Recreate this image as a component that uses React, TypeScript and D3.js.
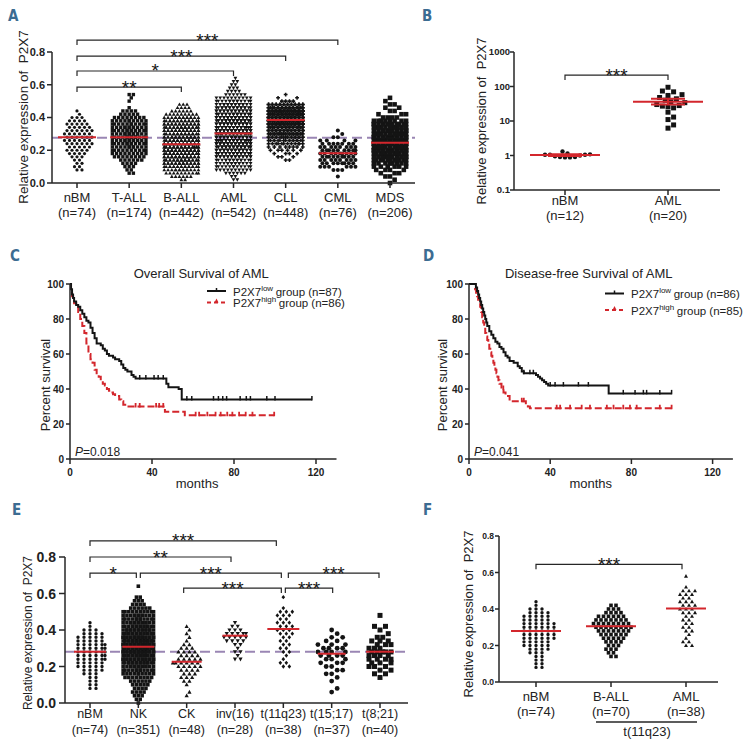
import React from "react";
import * as d3 from "d3";

const FONT = "'Liberation Sans', Arial, Helvetica, sans-serif";
const RED = "#d3262c";
const INK = "#141414";
const AXIS = "#262626";
const DASH = "#9a86b4";
const LETTER = "#3c6c92";

// ---------------- Panel A data ----------------
const aCategories = ["nBM", "T-ALL", "B-ALL", "AML", "CLL", "CML", "MDS"];
const aN = [74, 174, 442, 542, 448, 76, 206];
const aMedians = [0.28, 0.28, 0.236, 0.303, 0.385, 0.181, 0.246];
const aReference = 0.277;
// counts per 0.02-wide value bin: entry i = value 0.02*i
const histNbm = [0, 0, 0, 0, 2, 2, 2, 2, 3, 4, 5, 5, 6, 6, 6, 6, 6, 5, 5, 4, 3, 1, 1];
const histTall = [0, 0, 0, 2, 2, 3, 4, 6, 8, 9, 10, 11, 12, 13, 13, 13, 13, 12, 11, 10, 8, 5, 4, 1, 0, 1, 1, 2];
const histBall = [0, 2, 6, 10, 14, 18, 22, 24, 26, 28, 30, 30, 30, 28, 27, 26, 24, 22, 20, 18, 15, 9, 6, 4, 3];
const histAml = [0, 2, 2, 6, 10, 12, 14, 16, 20, 22, 26, 28, 30, 32, 32, 32, 32, 30, 28, 26, 24, 22, 20, 18, 16, 14, 10, 6, 4, 3, 2, 2, 1];
const histCll = [0, 0, 0, 0, 0, 0, 0, 2, 3, 4, 6, 8, 12, 16, 20, 26, 32, 36, 40, 44, 46, 46, 44, 36, 20, 4, 2, 1];
const histCml = [0, 0, 1, 0, 3, 6, 8, 8, 9, 9, 9, 8, 7, 4, 2, 1, 1];
const histMds = [1, 1, 2, 3, 4, 6, 8, 12, 13, 14, 14, 14, 14, 14, 14, 13, 12, 12, 12, 8, 4, 3, 2, 2, 2, 1, 1];
const aSignif = [
  { a: 0, b: 2, label: "**", v: 0.586 },
  { a: 0, b: 3, label: "*", v: 0.684 },
  { a: 0, b: 4, label: "***", v: 0.775 },
  { a: 0, b: 5, label: "***", v: 0.873 },
];

// ---------------- Panel B data ----------------
const bCategories = ["nBM", "AML"];
const bN = [12, 20];
const bNbm = [1.15, 1.05, 1.05, 1.0, 0.95, 0.9, 1.3, 0.88, 0.88, 0.9, 1.05, 1.08];
const bAml = [95, 74, 70, 58, 55, 48, 44, 40, 36, 34, 30, 28, 27, 26, 24, 18, 13, 11, 7.7, 6.2];
const bMeans = [1.03, 36];
const bSemLow = [0.97, 30];
const bSemHigh = [1.09, 44];
const bSignif = { label: "***", v: 215 };

// ---------------- Panel C / D data ----------------
const osLowT = [0, 0.5, 1, 1.5, 2, 3, 4, 5, 6, 7, 8, 9, 10, 11, 12, 13, 15, 16, 17, 18, 19, 21, 22, 24, 25, 26, 27, 28, 30, 31, 32, 47, 48, 53, 54.5];
const osLowS = [100, 97, 94, 92, 90, 88, 87, 85, 83, 81, 79, 78, 75, 72, 69, 66, 65, 63, 62, 60, 59, 58, 57, 56, 54, 52, 51, 50, 48, 47, 46, 43, 41, 40, 34];
const osLowCensor = [34, 37, 41, 43, 45.5, 57, 59.4, 70, 72.4, 74.5, 76.4, 83, 86, 88, 96, 100, 118];
const osHighT = [0, 0.5, 1, 1.5, 2, 3, 4, 5, 6, 7, 8, 9, 10, 11, 12, 13, 14, 15, 16, 17, 18, 19, 20, 21, 22, 24, 25, 26, 27.5, 46.3, 56];
const osHighS = [100, 96, 93, 91, 89, 87, 84, 80, 76, 72, 66, 60, 57, 55, 51, 48, 47, 45, 43, 42, 40, 39, 38, 37, 36, 34, 33, 31, 30, 27, 25];
const osHighCensor = [32, 34, 42, 43.5, 45.5, 61.3, 63, 67, 71, 73.5, 76.7, 79.2, 82.5, 85.7, 89, 99.6];

const dfsLowT = [0, 3.4, 4, 4.5, 5, 5.5, 6, 6.5, 7, 7.5, 8, 8.5, 9, 10, 11, 12, 13, 14, 15, 16, 17, 18, 19, 20, 22, 24, 25, 26, 27, 33, 34, 35, 36, 37, 38, 39, 68.8];
const dfsLowS = [100, 98, 96, 94, 92, 90, 88, 86, 84, 82, 80, 78, 76, 73, 71, 69, 67, 66, 64, 63, 61, 59, 58, 56, 55, 53, 52, 50, 49, 48, 47, 46, 45, 44, 43, 42, 37.5];
const dfsLowCensor = [27, 30, 31.7, 40, 42.4, 46.5, 53.9, 58.8, 76, 81.8, 85.9, 87.5, 94, 99.8];
const dfsHighT = [0, 3, 3.5, 4, 4.5, 5, 5.5, 6, 6.5, 7, 7.5, 8, 8.5, 9, 9.5, 10, 10.5, 11, 11.5, 12, 12.5, 13, 13.5, 14, 14.5, 15, 16, 17, 18, 20, 28, 29, 30];
const dfsHighS = [100, 97, 95, 93, 91, 89, 87, 84, 81, 78, 75, 72, 70, 68, 66, 63, 61, 59, 57, 55, 53, 51, 49, 47, 45, 43, 40, 38, 36, 33, 31, 30, 29];
const dfsHighCensor = [16.9, 26, 27, 43.2, 44.9, 49.8, 55.5, 59.6, 67.9, 71.2, 76, 79.3, 82.6, 94, 99.8];

// ---------------- Panel E data ----------------
const eCategories = ["nBM", "NK", "CK", "inv(16)", "t(11q23)", "t(15;17)", "t(8;21)"];
const eN = [74, 351, 48, 28, 38, 37, 40];
const eMedians = [0.281, 0.308, 0.226, 0.369, 0.405, 0.27, 0.281];
const eReference = 0.281;
const histNk = [1, 2, 3, 4, 4, 5, 6, 8, 10, 12, 14, 16, 18, 21, 23, 23, 24, 23, 21, 18, 16, 15, 14, 12, 12, 10, 6, 4, 3, 2, 0, 0, 1];
const histCk = [0, 0, 1, 1, 0, 1, 2, 3, 3, 4, 5, 6, 5, 4, 4, 3, 2, 1, 1, 1, 1, 1];
const histInv16 = [0, 0, 0, 0, 0, 0, 0, 0, 0, 0, 0, 0, 2, 1, 2, 1, 2, 4, 5, 5, 3, 2, 1];
const histT11q23 = [0, 0, 0, 0, 0, 0, 0, 0, 0, 0, 2, 2, 1, 1, 2, 2, 2, 2, 2, 3, 3, 3, 3, 2, 3, 3, 1, 0, 0, 1];
const histT1517 = [0, 0, 0, 1, 1, 0, 1, 1, 2, 2, 2, 3, 3, 4, 4, 4, 3, 2, 2, 1, 1];
const histT821 = [0, 0, 0, 0, 0, 0, 0, 1, 2, 2, 3, 3, 4, 4, 5, 3, 3, 3, 2, 1, 1, 2, 0, 0, 1];
const eSignif = [
  { a: 0, b: 4, label: "***", v: 0.888, da: 0, db: -7 },
  { a: 0, b: 3, label: "**", v: 0.8, da: 0, db: -4 },
  { a: 0, b: 1, label: "*", v: 0.712, da: 0, db: -2 },
  { a: 1, b: 4, label: "***", v: 0.712, da: 2, db: -2 },
  { a: 2, b: 4, label: "***", v: 0.63, da: -3, db: -2 },
  { a: 4, b: 6, label: "***", v: 0.712, da: 5, db: -1 },
  { a: 4, b: 5, label: "***", v: 0.63, da: 2, db: 1 },
];

// ---------------- Panel F data ----------------
const fCategories = ["nBM", "B-ALL", "AML"];
const fN = [74, 70, 38];
const fMedians = [0.28, 0.306, 0.403];
const histBallT11 = [0, 0, 0, 0, 0, 0, 0, 2, 2, 3, 3, 4, 5, 6, 7, 8, 8, 7, 6, 4, 3, 2];
const fSignif = [{ a: 0, b: 2, label: "***", v: 0.645, da: 0, db: -4 }];

// ---------------- helpers ----------------
type Shape = "circle" | "square" | "triangle" | "triangleDown" | "plus" | "diamond";

function markerPath(shape: Shape, d: number): string {
  const r = d / 2;
  switch (shape) {
    case "circle":
      return `M${r},0A${r},${r} 0 1,1 ${-r},0A${r},${r} 0 1,1 ${r},0Z`;
    case "square":
      return `M${-r},${-r}h${d}v${d}h${-d}Z`;
    case "triangle":
      return `M0,${-r * 1.1}L${r * 1.05},${r * 0.8}L${-r * 1.05},${r * 0.8}Z`;
    case "triangleDown":
      return `M0,${r * 1.1}L${r * 1.05},${-r * 0.8}L${-r * 1.05},${-r * 0.8}Z`;
    case "diamond":
      return `M0,${-r * 1.2}L${r},0L0,${r * 1.2}L${-r},0Z`;
    case "plus": {
      const t = d * 0.2;
      return `M${-t},${-r}h${2 * t}v${r - t}h${r - t}v${2 * t}h${-(r - t)}v${r - t}h${-2 * t}v${-(r - t)}h${-(r - t)}v${-2 * t}h${r - t}Z`;
    }
  }
  return "";
}

function expand(hist: number[], step = 0.02): number[] {
  const out: number[] = [];
  hist.forEach((c, i) => {
    for (let k = 0; k < c; k++) out.push(+(i * step).toFixed(4));
  });
  return out;
}

function dodge(values: number[], yOf: (v: number) => number, cx: number, sx: number, sy: number, maxHalf: number) {
  const ys = values.map((v) => yOf(v)).sort((a, b) => b - a);
  const step = sx / 2;
  const n = Math.max(0, Math.floor(maxHalf / step + 1e-6));
  const cands: number[] = [0];
  for (let k = 1; k <= n; k++) cands.push(k * step, -k * step);
  const placed: { x: number; y: number }[] = [];
  let start = 0;
  for (const py of ys) {
    while (start < placed.length && placed[start].y - py >= sy) start++;
    let chosen = 0;
    let best = Infinity;
    for (const c of cands) {
      let pen = 0;
      for (let j = start; j < placed.length; j++) {
        const q = placed[j];
        const dx = (q.x - (cx + c)) / sx;
        const dy = (q.y - py) / sy;
        const d2 = dx * dx + dy * dy;
        if (d2 < 0.999) pen += 1 - Math.sqrt(d2);
      }
      if (pen < 1e-9) {
        chosen = c;
        best = 0;
        break;
      }
      if (pen < best - 1e-9) {
        best = pen;
        chosen = c;
      }
    }
    placed.push({ x: cx + chosen, y: py });
  }
  return placed;
}

interface GroupStyle {
  shape: Shape;
  d: number;
  sx: number;
  maxHalf: number;
  medHalf: number;
}
interface Bracket {
  a: number;
  b: number;
  label: string;
  v: number;
  da?: number;
  db?: number;
}

function Brackets({ list, xOf, yOf }: { list: Bracket[]; xOf: (i: number) => number; yOf: (v: number) => number }) {
  return (
    <g>
      {list.map((b, k) => {
        const xa = xOf(b.a) + (b.da || 0);
        const xb = xOf(b.b) + (b.db || 0);
        const yy = yOf(b.v);
        return (
          <g key={k}>
            <path d={`M${xa},${yy + 5}V${yy}H${xb}V${yy + 5}`} fill="none" stroke={AXIS} strokeWidth={1.2} />
            <text x={(xa + xb) / 2} y={yy + 6.5} textAnchor="middle" fontSize={19} fill={INK}>
              {b.label}
            </text>
          </g>
        );
      })}
    </g>
  );
}

interface DotPanelProps {
  cats: string[];
  ns: number[];
  hists: number[][];
  medians: number[];
  styles: GroupStyle[];
  xRange: [number, number];
  axisX: number;
  axisRight: number;
  yRange: [number, number];
  tickFont: number;
  tickLen: number;
  tickGap: number;
  catFont: number;
  catBase1: number;
  catBase2: number;
  yLabel: { x: number; cy: number; size: number };
  reference?: number;
  brackets: Bracket[];
}

function DotPanel(p: DotPanelProps) {
  const x = d3.scalePoint<string>().domain(p.cats).range(p.xRange);
  const y = d3.scaleLinear().domain([0, 0.8]).range(p.yRange);
  const ticks = y.ticks(4);
  const fmt = d3.format(".1f");
  const groups = p.cats.map((c, i) => {
    const st = p.styles[i];
    const pts = dodge(expand(p.hists[i]), y, x(c)!, st.sx, st.d * 1.05, st.maxHalf);
    return { c, i, st, pts };
  });
  const y0 = y(0);
  return (
    <g>
      {p.reference !== undefined && (
        <line x1={p.axisX} x2={p.axisRight} y1={y(p.reference)} y2={y(p.reference)} stroke={DASH} strokeWidth={2} strokeDasharray="10,5" />
      )}
      {groups.map((g) => {
        const path = markerPath(g.st.shape, g.st.d);
        return (
          <g key={g.c} fill={INK}>
            {g.pts.map((pt, k) => (
              <path key={k} d={path} transform={`translate(${pt.x.toFixed(2)},${pt.y.toFixed(2)})`} />
            ))}
          </g>
        );
      })}
      {groups.map((g) => (
        <line
          key={"m" + g.c}
          x1={x(g.c)! - g.st.medHalf}
          x2={x(g.c)! + g.st.medHalf}
          y1={y(p.medians[g.i])}
          y2={y(p.medians[g.i])}
          stroke={RED}
          strokeWidth={2}
        />
      ))}
      {/* axes */}
      <line x1={p.axisX} x2={p.axisX} y1={y(0.8)} y2={y0} stroke={AXIS} strokeWidth={1.5} />
      <line x1={p.axisX} x2={p.axisRight} y1={y0} y2={y0} stroke={AXIS} strokeWidth={1.5} />
      {ticks.map((t) => (
        <g key={t}>
          <line x1={p.axisX - p.tickLen} x2={p.axisX} y1={y(t)} y2={y(t)} stroke={AXIS} strokeWidth={1.5} />
          <text x={p.axisX - p.tickGap} y={y(t)} dy="0.36em" textAnchor="end" fontWeight="bold" fontSize={p.tickFont} fill="#222">
            {fmt(t)}
          </text>
        </g>
      ))}
      {p.cats.map((c, i) => (
        <g key={"c" + c}>
          <line x1={x(c)} x2={x(c)} y1={y0} y2={y0 + 5} stroke={AXIS} strokeWidth={1.5} />
          <text x={x(c)} y={p.catBase1} textAnchor="middle" fontSize={p.catFont} fill="#222">
            {c}
          </text>
          <text x={x(c)} y={p.catBase2} textAnchor="middle" fontSize={p.catFont} fill="#222">
            {`(n=${p.ns[i]})`}
          </text>
        </g>
      ))}
      <text
        transform={`translate(${p.yLabel.x},${p.yLabel.cy}) rotate(-90)`}
        textAnchor="middle"
        fontSize={p.yLabel.size}
        fill="#222"
        style={{ whiteSpace: "pre" }}
      >
        {"Relative expression of  P2X7"}
      </text>
      <Brackets list={p.brackets} xOf={(i) => x(p.cats[i])!} yOf={y} />
    </g>
  );
}

function PanelB() {
  const x = d3.scalePoint<string>().domain(bCategories).range([565, 668]);
  const y = d3.scaleLog().domain([0.1, 1000]).range([190, 52]);
  const ticks = [0.1, 1, 10, 100, 1000];
  const axisX = 514;
  const groups = [
    { pts: dodge(bNbm, (v) => y(v), x("nBM")!, 5, 4.6, 34), path: markerPath("circle", 4.4) },
    { pts: dodge(bAml, (v) => y(v), x("AML")!, 5.6, 5.4, 34), path: markerPath("square", 5) },
  ];
  return (
    <g>
      {groups.map((g, gi) => (
        <g key={gi} fill={INK}>
          {g.pts.map((pt, k) => (
            <path key={k} d={g.path} transform={`translate(${pt.x.toFixed(2)},${pt.y.toFixed(2)})`} />
          ))}
        </g>
      ))}
      {bCategories.map((c, i) => {
        const cx = x(c)!;
        return (
          <g key={"e" + c} stroke={RED} strokeWidth={2}>
            <line x1={cx - 35} x2={cx + 35} y1={y(bMeans[i])} y2={y(bMeans[i])} />
            <line x1={cx} x2={cx} y1={y(bSemLow[i])} y2={y(bSemHigh[i])} />
            <line x1={cx - 17} x2={cx + 17} y1={y(bSemLow[i])} y2={y(bSemLow[i])} />
            <line x1={cx - 17} x2={cx + 17} y1={y(bSemHigh[i])} y2={y(bSemHigh[i])} />
          </g>
        );
      })}
      <line x1={axisX} x2={axisX} y1={y(1000)} y2={y(0.1)} stroke={AXIS} strokeWidth={1.5} />
      <line x1={axisX} x2={720} y1={y(0.1)} y2={y(0.1)} stroke={AXIS} strokeWidth={1.5} />
      {ticks.map((t) => (
        <g key={t}>
          <line x1={axisX - 4} x2={axisX} y1={y(t)} y2={y(t)} stroke={AXIS} strokeWidth={1.5} />
          <text x={axisX - 4} y={y(t)} dy="0.36em" textAnchor="end" fontWeight="bold" fontSize={9.5} fill="#222">
            {String(t)}
          </text>
        </g>
      ))}
      {bCategories.map((c, i) => (
        <g key={"c" + c}>
          <line x1={x(c)} x2={x(c)} y1={y(0.1)} y2={y(0.1) + 5} stroke={AXIS} strokeWidth={1.5} />
          <text x={x(c)} y={205} textAnchor="middle" fontSize={13} fill="#222">
            {c}
          </text>
          <text x={x(c)} y={220} textAnchor="middle" fontSize={13} fill="#222">
            {`(n=${bN[i]})`}
          </text>
        </g>
      ))}
      <text transform="translate(486,121) rotate(-90)" textAnchor="middle" fontSize={13} fill="#222" style={{ whiteSpace: "pre" }}>
        {"Relative expression of  P2X7"}
      </text>
      <Brackets list={[{ a: 0, b: 1, label: bSignif.label, v: bSignif.v }]} xOf={(i) => x(bCategories[i])!} yOf={(v) => y(v)} />
    </g>
  );
}

interface Curve {
  t: number[];
  s: number[];
  censor: number[];
}
interface SurvProps {
  x0: number;
  ppm: number;
  title: string;
  titleAt: number;
  monthsAt: number;
  low: Curve;
  high: Curve;
  nLow: number;
  nHigh: number;
  legX: number;
  legY1: number;
  legY2: number;
  pText: string;
  yLabelX: number;
}

function SurvPanel(p: SurvProps) {
  const x = d3.scaleLinear().domain([0, 130]).range([p.x0, p.x0 + 130 * p.ppm]);
  const y = d3.scaleLinear().domain([0, 100]).range([459, 284]);
  const line = d3
    .line<[number, number]>()
    .x((d) => x(d[0]))
    .y((d) => y(d[1]))
    .curve(d3.curveStepAfter);
  const pts = (c: Curve) => {
    const arr: [number, number][] = c.t.map((t, i) => [t, c.s[i]]);
    arr.push([d3.max(c.censor)!, c.s[c.s.length - 1]]);
    return arr;
  };
  const survAt = (c: Curve, t: number) => {
    let s = c.s[0];
    for (let i = 0; i < c.t.length; i++) if (c.t[i] <= t) s = c.s[i];
    return s;
  };
  const mid = (p.legX + p.legX + 19) / 2;
  return (
    <g>
      <path d={line(pts(p.high)) || ""} fill="none" stroke={RED} strokeWidth={2} strokeDasharray="7,3" />
      {p.high.censor.map((t, k) => (
        <line key={k} x1={x(t)} x2={x(t)} y1={y(survAt(p.high, t)) - 3.5} y2={y(survAt(p.high, t)) + 1} stroke={RED} strokeWidth={1.8} />
      ))}
      <path d={line(pts(p.low)) || ""} fill="none" stroke={INK} strokeWidth={2} />
      {p.low.censor.map((t, k) => (
        <line key={k} x1={x(t)} x2={x(t)} y1={y(survAt(p.low, t)) - 3.5} y2={y(survAt(p.low, t)) + 1} stroke={INK} strokeWidth={1.5} />
      ))}
      {/* axes */}
      <line x1={x(0)} x2={x(0)} y1={y(100)} y2={y(0)} stroke={AXIS} strokeWidth={1.5} />
      <line x1={x(0)} x2={x(130)} y1={y(0)} y2={y(0)} stroke={AXIS} strokeWidth={1.5} />
      {[0, 20, 40, 60, 80, 100].map((t) => (
        <g key={"y" + t}>
          <line x1={x(0) - 4} x2={x(0)} y1={y(t)} y2={y(t)} stroke={AXIS} strokeWidth={1.5} />
          <text x={x(0) - 6} y={y(t)} dy="0.36em" textAnchor="end" fontWeight="bold" fontSize={10} fill="#222">
            {t}
          </text>
        </g>
      ))}
      {[0, 40, 80, 120].map((t) => (
        <g key={"x" + t}>
          <line x1={x(t)} x2={x(t)} y1={y(0)} y2={y(0) + 5} stroke={AXIS} strokeWidth={1.5} />
          <text x={x(t)} y={476} textAnchor="middle" fontWeight="bold" fontSize={10} fill="#222">
            {t}
          </text>
        </g>
      ))}
      <text x={x(p.monthsAt)} y={488} textAnchor="middle" fontSize={13} fill="#222">
        months
      </text>
      <text transform={`translate(${p.yLabelX},385) rotate(-90)`} textAnchor="middle" fontSize={13} fill="#222">
        Percent survival
      </text>
      <text x={x(p.titleAt)} y={277.5} textAnchor="middle" fontSize={13} fill="#222">
        {p.title}
      </text>
      <text x={x(0) + 5} y={456} fontSize={12} fill="#222">
        <tspan fontStyle="italic">P</tspan>
        {p.pText}
      </text>
      {/* legend */}
      <line x1={p.legX} x2={p.legX + 19} y1={p.legY1} y2={p.legY1} stroke={INK} strokeWidth={2} />
      <line x1={mid} x2={mid} y1={p.legY1 - 3} y2={p.legY1} stroke={INK} strokeWidth={1.5} />
      <line x1={p.legX} x2={p.legX + 19} y1={p.legY2} y2={p.legY2} stroke={RED} strokeWidth={2} strokeDasharray="4,3" />
      <path d={`M${mid},${p.legY2 - 4}L${mid + 2},${p.legY2}L${mid - 2},${p.legY2}Z`} fill={RED} />
      <text x={p.legX + 26} y={p.legY1 + 4.5} fontSize={11.5} fill="#222">
        P2X7
        <tspan dy={-5} fontSize={8}>
          low
        </tspan>
        <tspan dy={5} dx={2.5}>{`group (n=${p.nLow})`}</tspan>
      </text>
      <text x={p.legX + 26} y={p.legY2 + 4.5} fontSize={11.5} fill="#222">
        P2X7
        <tspan dy={-5} fontSize={8}>
          high
        </tspan>
        <tspan dy={5} dx={2.5}>{`group (n=${p.nHigh})`}</tspan>
      </text>
    </g>
  );
}

function Letter({ x, y, t }: { x: number; y: number; t: string }) {
  return (
    <text x={x} y={y} fontSize={15} fontWeight="bold" fill={LETTER} fontFamily="'DejaVu Sans Condensed', 'DejaVu Sans', sans-serif" style={{ fontStretch: "condensed" }}>
      {t}
    </text>
  );
}

const aStyles: GroupStyle[] = [
  { shape: "circle", d: 3.2, sx: 5, maxHalf: 18, medHalf: 19 },
  { shape: "square", d: 3.4, sx: 4.2, maxHalf: 18, medHalf: 19 },
  { shape: "triangle", d: 3.6, sx: 3.8, maxHalf: 18, medHalf: 19 },
  { shape: "triangleDown", d: 3.6, sx: 3.8, maxHalf: 18, medHalf: 19 },
  { shape: "plus", d: 3.8, sx: 3.8, maxHalf: 18, medHalf: 19 },
  { shape: "circle", d: 4, sx: 4.4, maxHalf: 18, medHalf: 19 },
  { shape: "square", d: 4.6, sx: 4.6, maxHalf: 18, medHalf: 19 },
];
const eStyles: GroupStyle[] = [
  { shape: "circle", d: 3.4, sx: 6, maxHalf: 17, medHalf: 16 },
  { shape: "square", d: 3.6, sx: 3.8, maxHalf: 16, medHalf: 16 },
  { shape: "triangle", d: 4, sx: 5.5, maxHalf: 15, medHalf: 15 },
  { shape: "triangleDown", d: 4, sx: 5.5, maxHalf: 12, medHalf: 12.5 },
  { shape: "diamond", d: 3.6, sx: 6, maxHalf: 16, medHalf: 16 },
  { shape: "circle", d: 4.8, sx: 5.5, maxHalf: 14, medHalf: 14 },
  { shape: "square", d: 5, sx: 5.5, maxHalf: 13, medHalf: 14 },
];
const fStyles: GroupStyle[] = [
  { shape: "circle", d: 3.4, sx: 6, maxHalf: 23, medHalf: 25 },
  { shape: "square", d: 3.6, sx: 5, maxHalf: 24, medHalf: 25 },
  { shape: "triangle", d: 3.8, sx: 6, maxHalf: 14, medHalf: 20 },
];

export default function App() {
  return (
    <svg
      width={744}
      height={748}
      viewBox="0 0 744 748"
      style={{ position: "absolute", left: 0, top: 0, background: "#fff" }}
      fontFamily={FONT}
    >
      <rect width={744} height={748} fill="#fff" />
      <Letter x={8} y={21} t="A" />
      <Letter x={422} y={21} t="B" />
      <Letter x={10} y={261} t="C" />
      <Letter x={423} y={261} t="D" />
      <Letter x={12} y={515} t="E" />
      <Letter x={423} y={515} t="F" />

      <DotPanel
        cats={aCategories}
        ns={aN}
        hists={[histNbm, histTall, histBall, histAml, histCll, histCml, histMds]}
        medians={aMedians}
        styles={aStyles}
        xRange={[77, 390]}
        axisX={52}
        axisRight={415}
        yRange={[183, 52]}
        tickFont={11}
        tickLen={5}
        tickGap={7}
        catFont={13}
        catBase1={201.5}
        catBase2={216.5}
        yLabel={{ x: 28, cy: 117, size: 13.5 }}
        reference={aReference}
        brackets={aSignif}
      />
      <PanelB />
      <SurvPanel
        x0={70}
        ppm={2.05}
        title="Overall Survival of AML"
        titleAt={64}
        monthsAt={62}
        low={{ t: osLowT, s: osLowS, censor: osLowCensor }}
        high={{ t: osHighT, s: osHighS, censor: osHighCensor }}
        nLow={87}
        nHigh={86}
        legX={207}
        legY1={291}
        legY2={302.5}
        pText="=0.018"
        yLabelX={50}
      />
      <SurvPanel
        x0={469}
        ppm={2.03}
        title="Disease-free Survival of AML"
        titleAt={59}
        monthsAt={60}
        low={{ t: dfsLowT, s: dfsLowS, censor: dfsLowCensor }}
        high={{ t: dfsHighT, s: dfsHighS, censor: dfsHighCensor }}
        nLow={86}
        nHigh={85}
        legX={605}
        legY1={293.5}
        legY2={310}
        pText="=0.041"
        yLabelX={447}
      />
      <DotPanel
        cats={eCategories}
        ns={eN}
        hists={[histNbm, histNk, histCk, histInv16, histT11q23, histT1517, histT821]}
        medians={eMedians}
        styles={eStyles}
        xRange={[90, 380]}
        axisX={65}
        axisRight={408}
        yRange={[703, 557]}
        tickFont={14}
        tickLen={6}
        tickGap={9}
        catFont={12.5}
        catBase1={718}
        catBase2={734}
        yLabel={{ x: 32, cy: 633, size: 12 }}
        reference={eReference}
        brackets={eSignif}
      />
      <DotPanel
        cats={fCategories}
        ns={fN}
        hists={[histNbm, histBallT11, histT11q23]}
        medians={fMedians}
        styles={fStyles}
        xRange={[536, 686]}
        axisX={499}
        axisRight={718}
        yRange={[682, 536]}
        tickFont={8.5}
        tickLen={4}
        tickGap={5}
        catFont={13}
        catBase1={701}
        catBase2={716}
        yLabel={{ x: 473, cy: 614, size: 13 }}
        brackets={fSignif}
      />
      <line x1={596} x2={697} y1={722} y2={722} stroke={AXIS} strokeWidth={1.5} />
      <text x={647} y={736} textAnchor="middle" fontSize={13} fill="#222">
        t(11q23)
      </text>
    </svg>
  );
}
